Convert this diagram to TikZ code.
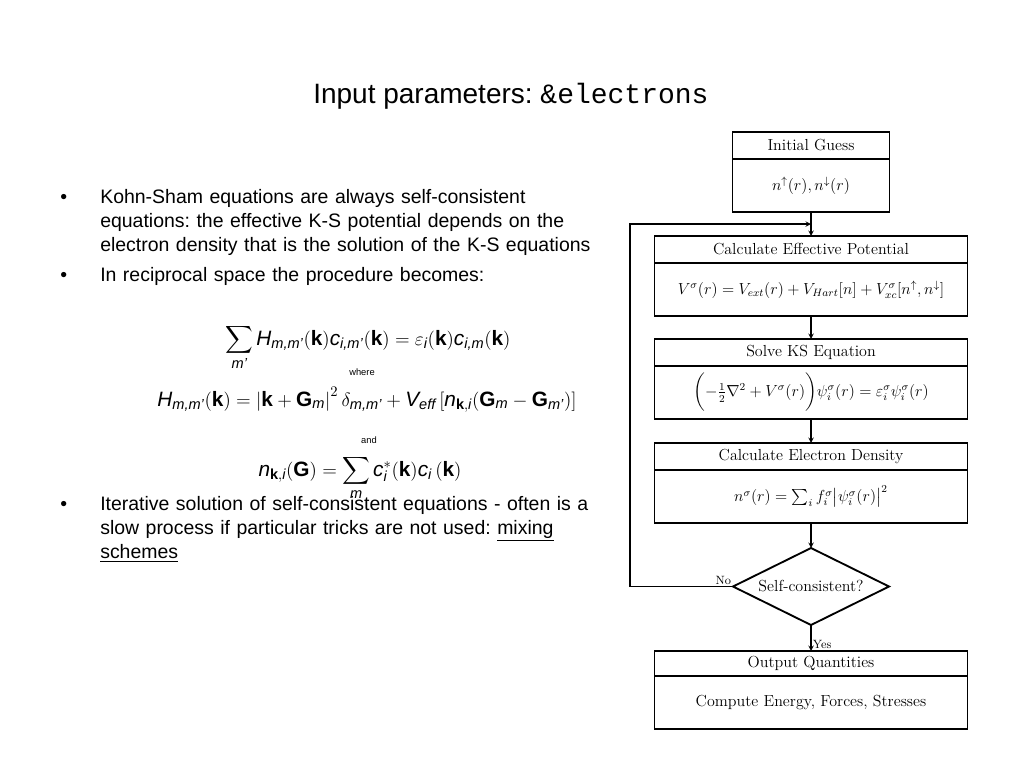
\documentclass[tikz,border=0pt]{standalone}
\usepackage{amsmath}
\usepackage[no-math]{fontspec}
\setmainfont{Liberation Sans}
\setmonofont{Liberation Mono}
\usetikzlibrary{positioning,shapes.geometric}
\newcommand{\lmr}{\fontfamily{lmr}\selectfont}
\newcommand{\vit}[1]{\text{\itshape #1}}
\newcommand{\vbf}[1]{\text{\bfseries #1}}
\frenchspacing

\begin{document}
\begin{tikzpicture}
    [
      x=0.75pt,
      y=-0.75pt,
      head/.style=
      {
        draw,
        line width=1.4pt,
        inner sep=0pt,
        outer sep=0pt,
        minimum width=234.75pt,
        minimum height=20.25pt,
        font=\lmr\fontsize{12}{14}\selectfont
      },
      body/.style=
      {
        draw,
        line width=1.4pt,
        inner sep=0pt,
        outer sep=0pt,
        minimum width=234.75pt,
        minimum height=39.75pt,
        font=\lmr\fontsize{12}{14}\selectfont
      },
      cond/.style=
      {
        draw,
        shape=diamond,
        aspect=2,
        line width=1.4pt,
        inner sep=0pt,
        outer sep=0pt,
        minimum width=117pt,
        minimum height=57.75pt,
        font=\lmr\fontsize{12}{14}\selectfont
      },
      txt/.style=
      {
        anchor=base west,
        inner sep=0pt,
        text width=390pt,
        align=left,
        font=\fontsize{14.6}{18}\selectfont
      },
      dot/.style=
      {
        anchor=base west,
        inner sep=0pt,
        font=\fontsize{14.6}{18}\selectfont
      },
      eqn/.style=
      {
        anchor=base,
        inner sep=0pt,
        font=\fontsize{15.6}{19}\selectfont
      },
      note/.style=
      {
        anchor=base,
        inner sep=0pt,
        font=\fontsize{7}{8}\selectfont
      },
      lbl/.style=
      {
        inner sep=1pt,
        font=\lmr\fontsize{9}{10}\selectfont
      },
      arrow/.style={-stealth, line width=0.8pt}
    ]
    \useasboundingbox (0,0) rectangle (1024,768);

    %title
    \node[dot, font=\fontsize{21}{25}\selectfont](Title) at (313,103)
    {
      Input parameters: \texttt{\&electrons}
    };

    %bullets
    \node[dot](DotA) at (60,203) {\textbullet};
    \node[txt](ItemA) at (100,203)
    {
      Kohn-Sham equations are always self-consistent\\
      equations: the effective K-S potential depends on the\\
      electron density that is the solution of the K-S equations
    };
    \node[dot](DotB) at (60,281) {\textbullet};
    \node[txt](ItemB) at (100,281)
    {
      In reciprocal space the procedure becomes:
    };
    \node[dot](DotC) at (60,510) {\textbullet};
    \node[txt](ItemC) at (100,510)
    {
      Iterative solution of self-consistent equations - often is a\\
      slow process if particular tricks are not used: \underline{mixing}\\
      \underline{schemes}
    };

    %equations
    \node[eqn](EqSecular) at (368,345)
    {
      $\displaystyle\sum_{\vit{m'}}\vit{H}_{\vit{m,m'}}(\vbf{k})\vit{c}_{\vit{i,m'}}(\vbf{k})
      =\varepsilon_{\vit{i}}(\vbf{k})\vit{c}_{\vit{i,m}}(\vbf{k})$
    };
    \node[note](Where) at (362,375) {where};
    \node[eqn](EqHam) at (367,406)
    {
      $\vit{H}_{\vit{m,m'}}(\vbf{k})=\left|\vbf{k}+\vbf{G}_{\vit{m}}\right|^2\delta_{\vit{m,m'}}
      +\vit{V}_{\vit{eff}}\,[\vit{n}_{\vbf{k},\vit{i}}(\vbf{G}_{\vit{m}}-\vbf{G}_{\vit{m'}})]$
    };
    \node[note](And) at (369,443) {and};
    \node[eqn](EqDens) at (360,476)
    {
      $\vit{n}_{\vbf{k},\vit{i}}(\vbf{G})=\displaystyle\sum_{\vit{m}}\vit{c}^{*}_{\vit{i}}(\vbf{k})\vit{c}_{\vit{i}}\,(\vbf{k})$
    };

    %flowchart
    \node[head, minimum width=117.75pt](GuessHead) at (811,145.5) {Initial Guess};
    \node[body, minimum width=117.75pt, below=0pt of GuessHead](GuessBody)
    {
      $n^{\uparrow}(r),n^{\downarrow}(r)$
    };
    \node[head, below=18pt of GuessBody](CalcHead) {Calculate Effective Potential};
    \node[body, below=0pt of CalcHead](CalcBody)
    {
      $V^{\sigma}(r)=V_{ext}(r)+V_{Hart}[n]+V^{\sigma}_{xc}[n^{\uparrow},n^{\downarrow}]$
    };
    \node[head, below=17.25pt of CalcBody](SolveHead) {Solve KS Equation};
    \node[body, below=0pt of SolveHead](SolveBody)
    {
      $\biggl(-\frac{1}{2}\nabla^2+V^{\sigma}(r)\biggr)\psi^{\sigma}_i(r)=\varepsilon^{\sigma}_i\psi^{\sigma}_i(r)$
    };
    \node[head, below=18pt of SolveBody](DensHead) {Calculate Electron Density};
    \node[body, below=0pt of DensHead](DensBody)
    {
      $n^{\sigma}(r)=\sum_i f^{\sigma}_i\big|\psi^{\sigma}_i(r)\big|^2$
    };
    \node[cond, below=18.75pt of DensBody](Check) {Self-consistent?};
    \node[head, minimum height=18.75pt, below=19.5pt of Check](OutHead) {Output Quantities};
    \node[body, below=0pt of OutHead](OutBody)
    {
      Compute Energy, Forces, Stresses
    };

    \coordinate (Join) at (811,224);
    \coordinate (Back) at (630,224);
    \draw[arrow] (GuessBody) -- (CalcHead);
    \draw[arrow] (CalcBody) -- (SolveHead);
    \draw[arrow] (SolveBody) -- (DensHead);
    \draw[arrow] (DensBody) -- (Check);
    \draw[arrow] (Check) -- node[lbl, anchor=north west]{Yes} (OutHead);
    \draw[arrow] (Check.west) node[lbl, anchor=south east]{No} -| (Back) -- (Join);
  \end{tikzpicture}
\end{document}
